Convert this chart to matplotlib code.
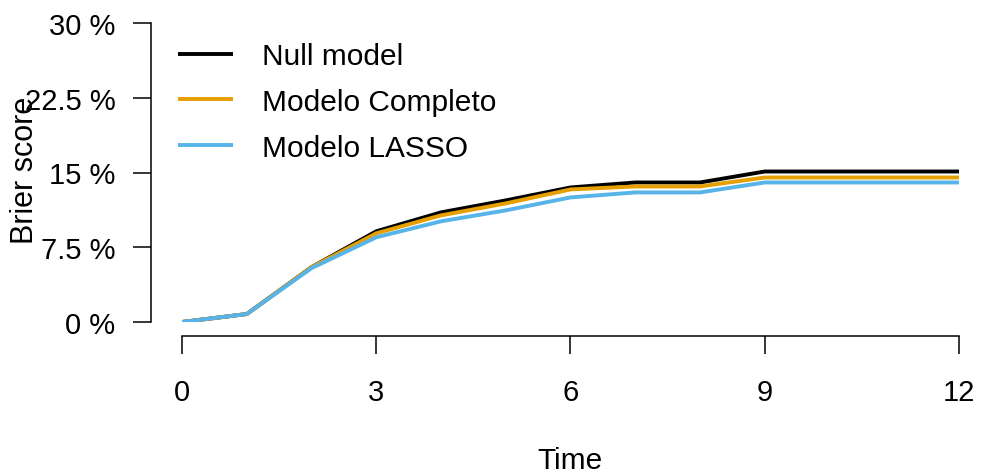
import matplotlib.pyplot as plt
from matplotlib.ticker import FuncFormatter

plt.rcParams['font.family'] = ['Liberation Sans', 'DejaVu Sans']

# Brier score (%) by time for each model
time = [0, 1, 2, 3, 4, 5, 6, 7, 8, 9, 10, 11, 12]
null_model = [0, 0.8, 5.5, 9.1, 11.0, 12.2, 13.5, 14.0, 14.0, 15.1, 15.1, 15.1, 15.1]
completo = [0, 0.8, 5.5, 8.9, 10.7, 11.9, 13.3, 13.6, 13.6, 14.5, 14.5, 14.5, 14.5]
lasso = [0, 0.8, 5.4, 8.5, 10.1, 11.2, 12.5, 13.0, 13.0, 14.0, 14.0, 14.0, 14.0]

labels = ["Null model", "Modelo Completo", "Modelo LASSO"]
colors = ["black", "#E69F00", "#56B4E9"]
yticks = [0, 7.5, 15, 22.5, 30]
xticks = [0, 3, 6, 9, 12]

W, H = 981, 477
fig = plt.figure(figsize=(W / 100, H / 100), dpi=100)
ax = fig.add_axes([182 / W, (H - 323) / H, (959 - 182) / W, (323 - 24) / H])

for y, lab, c in zip([null_model, completo, lasso], labels, colors):
    ax.plot(time, y, color=c, lw=2.8, label=lab, solid_capstyle='butt')

ax.set_xlim(0, 12)
ax.set_ylim(0, 30)
ax.set_xticks(xticks)
ax.set_yticks(yticks)
ax.yaxis.set_major_formatter(FuncFormatter(lambda v, p: f"{v:g} %"))

# R-style detached axes
for s in ['top', 'right']:
    ax.spines[s].set_visible(False)
ax.spines['left'].set_position(('outward', 22))
ax.spines['bottom'].set_position(('outward', 10))
ax.spines['left'].set_linewidth(1.1)
ax.spines['bottom'].set_linewidth(1.1)
ax.tick_params(axis='both', length=13, width=1.1, labelsize=21)
ax.tick_params(axis='y', pad=13)
ax.tick_params(axis='x', pad=17)

fig.text(570 / W, 1 - 461 / H, "Time", ha='center', va='center', fontsize=21.5)
fig.text(25 / W, 1 - 170 / H, "Brier score", ha='center', va='center',
         rotation=90, fontsize=22)

ax.legend(loc='upper left', bbox_to_anchor=(178 / W, 1 - 43 / H),
          bbox_transform=fig.transFigure, frameon=False, fontsize=21.5,
          handlelength=1.85, handletextpad=0.95, labelspacing=0.6,
          borderpad=0, borderaxespad=0)

fig.savefig("out.png", dpi=100)
